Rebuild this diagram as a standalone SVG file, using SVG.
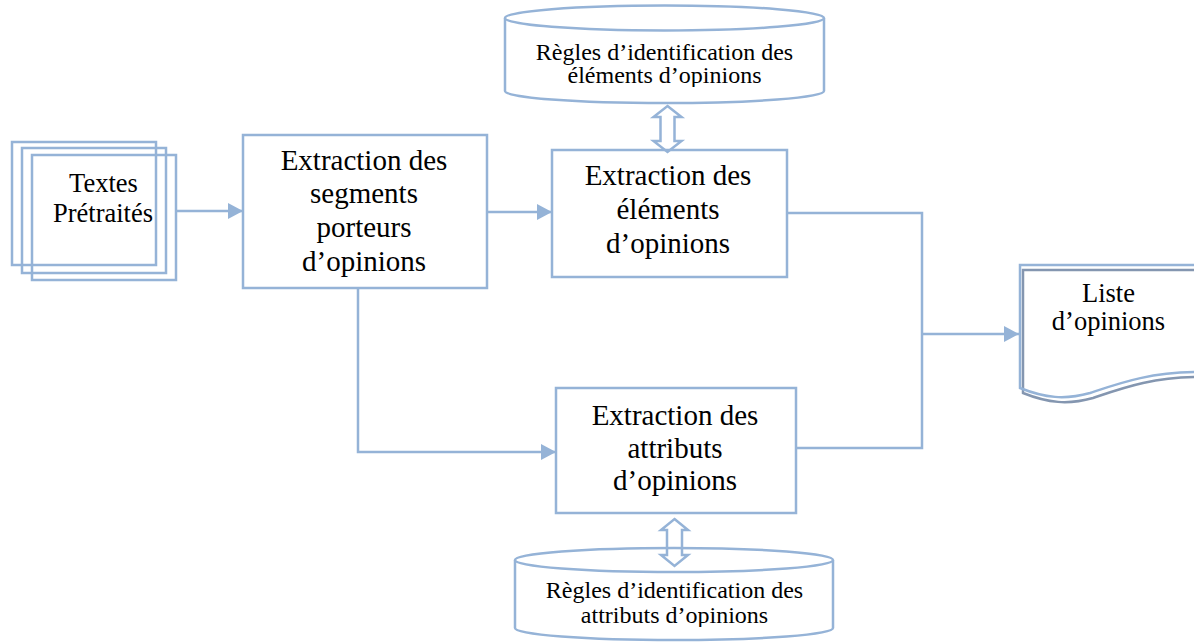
<svg xmlns="http://www.w3.org/2000/svg" width="1194" height="642" viewBox="0 0 1194 642">
  <style>
    .ln { fill: none; stroke: #95B3D7; stroke-width: 2.5; }
    .box { fill: #FFFFFF; stroke: #95B3D7; stroke-width: 2.5; }
    .shadow { fill: none; stroke: #8496B0; stroke-width: 2.5; }
    .t { font-family: "Liberation Serif", "Times New Roman", serif; fill: #000000; text-anchor: middle; }
    .big { font-size: 29px; }
    .mid { font-size: 26.5px; }
    .small { font-size: 24px; }
  </style>
  <defs>
    <marker id="arrow" viewBox="0 0 15 16" refX="15" refY="8" markerWidth="15" markerHeight="16" markerUnits="userSpaceOnUse" orient="auto">
      <path d="M0,0 L15,8 L0,16 Z" fill="#95B3D7"/>
    </marker>
    <clipPath id="clipTopDb"><rect x="500" y="0" width="330" height="87"/></clipPath>
    <clipPath id="clipBotDb"><rect x="510" y="540" width="330" height="87"/></clipPath>
  </defs>

  <!-- Input documents (stacked pages) -->
  <g id="textes">
    <rect class="ln" x="12" y="142" width="144" height="123" stroke-width="3"/>
    <rect class="ln" x="22" y="148" width="144" height="125" stroke-width="3"/>
    <rect class="ln" x="32" y="155" width="144" height="125" stroke-width="3"/>
    <text class="t mid" x="103.5" y="192">Textes</text>
    <text class="t mid" x="103" y="222">Prétraités</text>
  </g>

  <!-- Segment extraction -->
  <g id="segments">
    <rect class="box" x="243" y="135" width="244" height="153"/>
    <text class="t big" x="364" y="170">Extraction des</text>
    <text class="t big" x="364" y="203">segments</text>
    <text class="t big" x="364" y="237">porteurs</text>
    <text class="t big" x="364" y="271">d’opinions</text>
  </g>

  <!-- Element extraction -->
  <g id="elements">
    <rect class="box" x="552" y="150" width="235" height="127"/>
    <text class="t big" x="668" y="185">Extraction des</text>
    <text class="t big" x="668" y="219">éléments</text>
    <text class="t big" x="668" y="253">d’opinions</text>
  </g>

  <!-- Attribute extraction -->
  <g id="attributs">
    <rect class="box" x="556" y="388" width="240" height="125"/>
    <text class="t big" x="675" y="425">Extraction des</text>
    <text class="t big" x="675" y="458">attributs</text>
    <text class="t big" x="675" y="490">d’opinions</text>
  </g>

  <!-- Rule store: elements -->
  <g id="regles-elements">
    <path class="box" d="M505,18 L505,91 A159.5,12 0 0 0 824,91 L824,18"/>
    <ellipse class="box" cx="664.5" cy="18" rx="159.5" ry="12.5"/>
    <g clip-path="url(#clipTopDb)">
      <text class="t small" x="664.5" y="60">Règles d’identification des</text>
      <text class="t small" x="664.5" y="83">éléments d’opinions</text>
    </g>
  </g>

  <!-- Rule store: attributes -->
  <g id="regles-attributs">
    <path class="box" d="M515,560 L515,628 A159,12 0 0 0 833,628 L833,560"/>
    <ellipse class="box" cx="674" cy="560" rx="159" ry="12"/>
    <g clip-path="url(#clipBotDb)">
      <text class="t small" x="674.5" y="598">Règles d’identification des</text>
      <text class="t small" x="674.5" y="623">attributs d’opinions</text>
    </g>
  </g>

  <!-- Output document -->
  <g id="liste">
    <path class="shadow" d="M1200,270 L1023,270 L1023,393 C1048,403 1068,405 1093,398 C1123,388 1153,377 1200,377"/>
    <path class="ln" d="M1200,265 L1020,265 L1020,388 C1045,398 1065,400 1090,393 C1120,383 1150,372 1200,372"/>
    <text class="t mid" x="1108.5" y="302">Liste</text>
    <text class="t mid" x="1108.5" y="330">d’opinions</text>
  </g>

  <!-- Connectors (drawn last so they sit on top of the shapes) -->
  <g id="connectors">
    <line class="ln" x1="176" y1="211" x2="243" y2="211" marker-end="url(#arrow)"/>
    <line class="ln" x1="487" y1="212" x2="552" y2="212" marker-end="url(#arrow)"/>
    <polyline class="ln" points="358,289 358,452 556,452" marker-end="url(#arrow)"/>
    <polyline class="ln" points="787,213 922,213 922,448 796,448"/>
    <line class="ln" x1="922" y1="334" x2="1019" y2="334" marker-end="url(#arrow)"/>
    <!-- two-way links to the rule stores -->
    <path class="ln" d="M667.5,106 L681.5,117 L674.5,117 L674.5,141 L681.5,141 L667.5,152 L653.5,141 L660.5,141 L660.5,117 L653.5,117 Z"/>
    <path class="ln" d="M674.5,519 L688,530 L682,530 L682,555 L688,555 L674.5,566 L661,555 L667,555 L667,530 L661,530 Z"/>
  </g>
</svg>
